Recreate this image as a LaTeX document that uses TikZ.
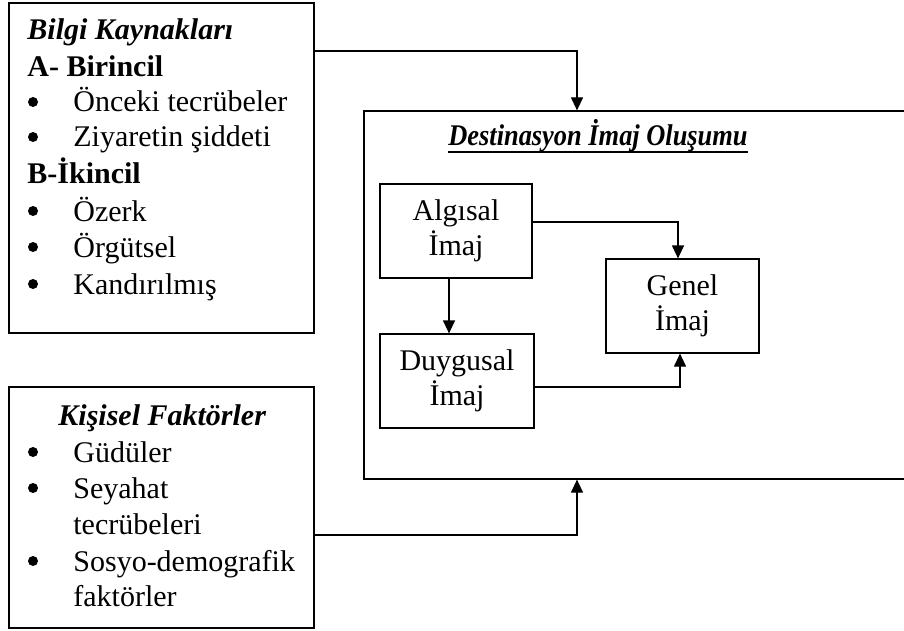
\documentclass[tikz,border=0pt]{standalone}
\usepackage{fontspec}
\usepackage{graphicx}
\setmainfont{Liberation Serif}
\usetikzlibrary{arrows.meta}
\begin{document}
\begin{tikzpicture}[x=0.5pt,y=-0.5pt,
  every node/.style={font=\fontsize{15}{17.5}\selectfont, inner sep=0pt},
  frame/.style={draw, line width=0.6pt, minimum width=#1, anchor=center},
  ln/.style={anchor=base west},
  bul/.style={circle, fill=black, minimum size=5pt, anchor=center},
  arr/.style={draw, line width=0.6pt, -{Triangle[length=6.5pt,width=6pt]}}]
\clip (0,0) rectangle (904,631);
% boxes
\node[frame=152.5pt, minimum height=165pt] (src) at (161.5,168) {};
\node[frame=152.5pt, minimum height=120.5pt] (pers) at (161.5,507.5) {};
\node[frame=290pt, minimum height=184pt] (big) at (654,295) {};
\node[frame=76pt, minimum height=47pt, align=center] (alg) at (456,231) {Algısal\\İmaj};
\node[frame=77pt, minimum height=47pt, align=center] (duy) at (457,381) {Duygusal\\İmaj};
\node[frame=76.5pt, minimum height=47pt, align=center] (gen) at (682.5,306) {Genel\\İmaj};
% source text
\node[ln] (s1) at (27,40) {\bfseries\itshape Bilgi Kaynakları};
\node[ln] (s2) at (27,77) {\bfseries A- Birincil};
\node[bul] (b1) at (33,102) {};
\node[ln] (s3) at (73,112) {Önceki tecrübeler};
\node[bul] (b2) at (33,137) {};
\node[ln] (s4) at (73,147) {Ziyaretin şiddeti};
\node[ln] (s5) at (27,183) {\bfseries B-İkincil};
\node[bul] (b3) at (33,211) {};
\node[ln] (s6) at (73,221) {Özerk};
\node[bul] (b4) at (33,247) {};
\node[ln] (s7) at (73,257) {Örgütsel};
\node[bul] (b5) at (33,284) {};
\node[ln] (s8) at (73,294) {Kandırılmış};
% personal text
\node[ln] (p1) at (58,425) {\bfseries\itshape Kişisel Faktörler};
\node[bul] (b6) at (33,452) {};
\node[ln] (p2) at (73,462) {Güdüler};
\node[bul] (b7) at (33,488) {};
\node[ln] (p3) at (73,498) {Seyahat};
\node[ln] (p4) at (73,534) {tecrübeleri};
\node[bul] (b8) at (33,561) {};
\node[ln] (p5) at (73,571) {Sosyo-demografik};
\node[ln] (p6) at (73,606) {faktörler};
% title
\node[anchor=base] (title) at (598,146) {\scalebox{0.88}[1]{\bfseries\itshape Destinasyon İmaj Oluşumu}};
\coordinate (u) at (0,152);
\draw[line width=1pt] (title.west |- u) -- (title.east |- u);
% connectors
\coordinate (t1) at (577,51);
\coordinate (t2) at (577,535);
\coordinate (t3) at (678,222);
\coordinate (t4) at (449,0);
\coordinate (t5) at (680,387);
\draw[arr] (src.east |- t1) -| (big.north -| t1);
\draw[arr] (pers.east |- t2) -| (big.south -| t2);
\draw[arr] (alg.east |- t3) -| (gen.north -| t3);
\draw[arr] (alg.south -| t4) -- (duy.north -| t4);
\draw[arr] (duy.east |- t5) -| (gen.south -| t5);
\end{tikzpicture}
\end{document}
